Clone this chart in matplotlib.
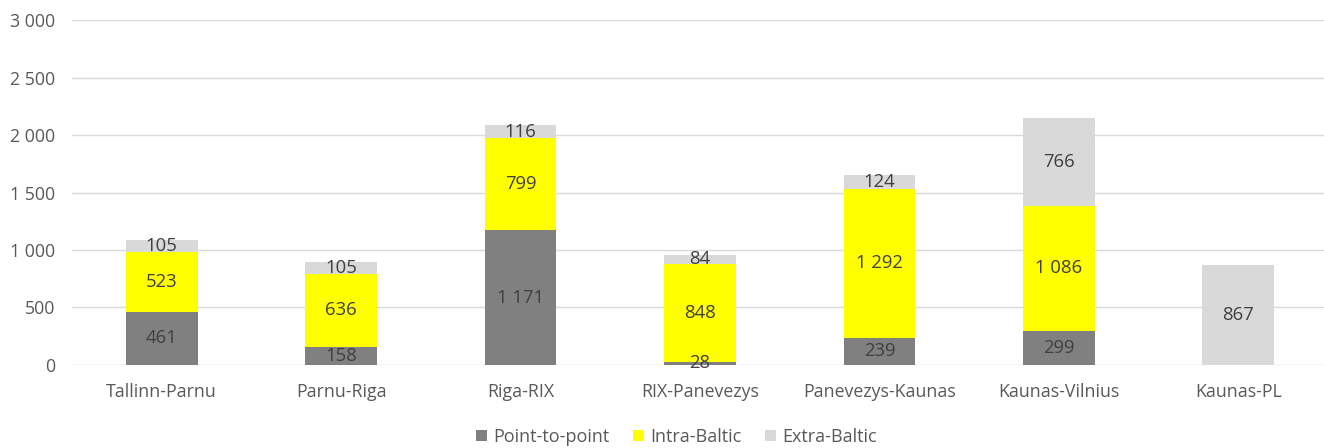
import matplotlib
matplotlib.use("Agg")
import matplotlib.pyplot as plt
import numpy as np

categories = ["Tallinn-Parnu", "Parnu-Riga", "Riga-RIX", "RIX-Panevezys",
              "Panevezys-Kaunas", "Kaunas-Vilnius", "Kaunas-PL"]
point_to_point = [461, 158, 1171, 28, 239, 299, 0]
intra_baltic = [523, 636, 799, 848, 1292, 1086, 0]
extra_baltic = [105, 105, 116, 84, 124, 766, 867]
series_names = ["Point-to-point", "Intra-Baltic", "Extra-Baltic"]
colors = ["#808080", "#FFFF00", "#D9D9D9"]
yticks = [0, 500, 1000, 1500, 2000, 2500, 3000]

plt.rcParams['font.family'] = ['Open Sans', 'DejaVu Sans']

fig = plt.figure(figsize=(13.24, 4.48), dpi=100)
ax = fig.add_axes([0.0544, 0.1853, 0.9486, 0.770])

x = np.arange(len(categories))
width = 0.40
bottom = np.zeros(len(categories))
for vals, name, c in zip([point_to_point, intra_baltic, extra_baltic], series_names, colors):
    vals = np.array(vals, dtype=float)
    ax.bar(x, vals, width, bottom=bottom, color=c, label=name, zorder=3)
    for xi, v, b in zip(x, vals, bottom):
        if v > 0:
            lbl = f"{int(v):,}".replace(",", " ")
            ax.text(xi, b + v / 2, lbl, ha="center", va="center",
                    fontsize=13.3, color="#404040", zorder=4)
    bottom += vals

ax.set_xlim(-0.5, len(categories) - 0.5)
ax.set_ylim(0, 3000)
ax.set_yticks(yticks)
ax.set_yticklabels([f"{t:,}".replace(",", " ") for t in yticks])
ax.set_xticks(x)
ax.set_xticklabels(categories)
ax.tick_params(axis="both", length=0, labelsize=12.8, colors="#595959")
ax.tick_params(axis="x", pad=13)
ax.tick_params(axis="y", pad=12)
ax.grid(axis="y", color="#D9D9D9", linewidth=1, zorder=0)
for s in ax.spines.values():
    s.set_visible(False)

handles, labels = ax.get_legend_handles_labels()
leg = fig.legend(handles, labels, loc="center", bbox_to_anchor=(0.511, 0.025),
                 ncol=3, frameon=False, fontsize=13.0, handlelength=0.6,
                 handleheight=0.6, handletextpad=0.35, columnspacing=1.3)
for t in leg.get_texts():
    t.set_color("#595959")

fig.savefig("out.png", dpi=100)
